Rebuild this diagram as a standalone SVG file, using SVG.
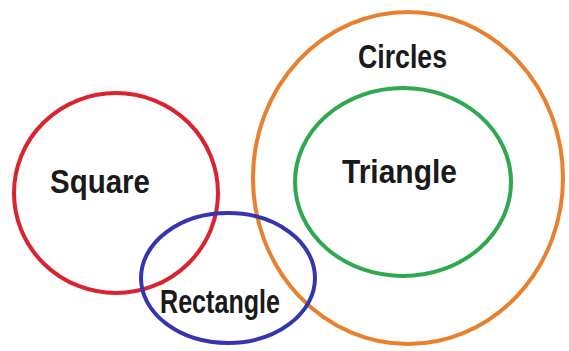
<svg xmlns="http://www.w3.org/2000/svg" width="569" height="351" viewBox="0 0 569 351">
<style>
.s{fill:none;stroke-width:4}
.t{font-family:"Liberation Sans",Arial,sans-serif;font-weight:bold;fill:#1a1a1a;font-size:33px}
</style>
<rect width="569" height="351" fill="#ffffff"/>
<g id="circles"><ellipse class="s" cx="408" cy="178" rx="155" ry="166" stroke="#e8812f"/><text class="t" x="358" y="68" textLength="89" lengthAdjust="spacingAndGlyphs">Circles</text></g>
<g id="triangle"><ellipse class="s" cx="403" cy="182" rx="108" ry="94" stroke="#2fa84f"/><text class="t" x="342" y="183" textLength="115" lengthAdjust="spacingAndGlyphs">Triangle</text></g>
<g id="square"><ellipse class="s" cx="116" cy="193" rx="102" ry="100" stroke="#d9232e"/><text class="t" x="50" y="193" textLength="100" lengthAdjust="spacingAndGlyphs">Square</text></g>
<g id="rectangle"><ellipse class="s" cx="228" cy="278" rx="87" ry="65" stroke="#3535b0"/><text class="t" x="160" y="313" textLength="120" lengthAdjust="spacingAndGlyphs">Rectangle</text></g>
<g id="connectors"></g>
</svg>
